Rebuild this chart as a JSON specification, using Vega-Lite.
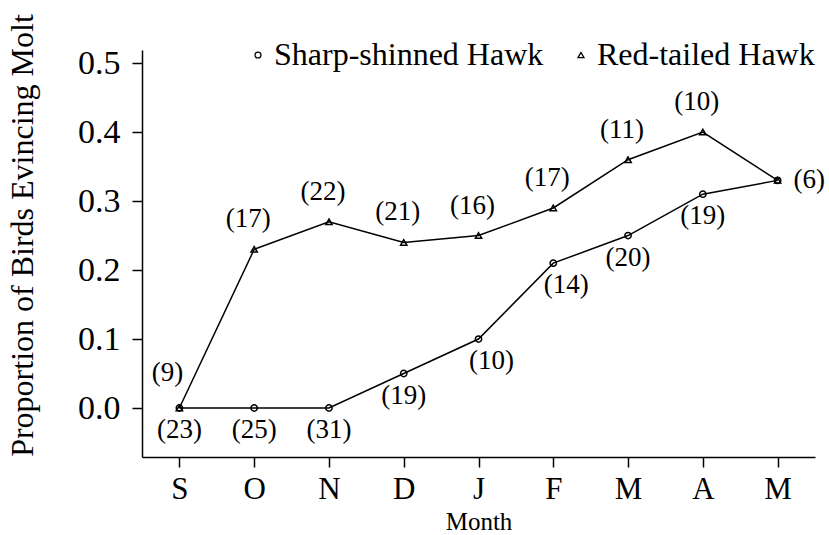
{
  "$schema": "https://vega.github.io/schema/vega-lite/v6.json",
  "width": 673,
  "height": 407,
  "autosize": {"type": "none"},
  "padding": {"left": 142, "top": 50, "right": 14, "bottom": 78},
  "background": "white",
  "config": {"view": {"stroke": null}, "font": "Liberation Serif"},
  "data": {
    "values": [
      {"species": "Sharp-shinned Hawk", "month": "Sep", "proportion": 0.0, "sample": "(23)"},
      {"species": "Sharp-shinned Hawk", "month": "Oct", "proportion": 0.0, "sample": "(25)"},
      {"species": "Sharp-shinned Hawk", "month": "Nov", "proportion": 0.0, "sample": "(31)"},
      {"species": "Sharp-shinned Hawk", "month": "Dec", "proportion": 0.05, "sample": "(19)"},
      {"species": "Sharp-shinned Hawk", "month": "Jan", "proportion": 0.10, "sample": "(10)"},
      {"species": "Sharp-shinned Hawk", "month": "Feb", "proportion": 0.21, "sample": "(14)"},
      {"species": "Sharp-shinned Hawk", "month": "Mar", "proportion": 0.25, "sample": "(20)"},
      {"species": "Sharp-shinned Hawk", "month": "Apr", "proportion": 0.31, "sample": "(19)"},
      {"species": "Sharp-shinned Hawk", "month": "May", "proportion": 0.33, "sample": "(6)"},
      {"species": "Red-tailed Hawk", "month": "Sep", "proportion": 0.0, "sample": "(9)"},
      {"species": "Red-tailed Hawk", "month": "Oct", "proportion": 0.23, "sample": "(17)"},
      {"species": "Red-tailed Hawk", "month": "Nov", "proportion": 0.27, "sample": "(22)"},
      {"species": "Red-tailed Hawk", "month": "Dec", "proportion": 0.24, "sample": "(21)"},
      {"species": "Red-tailed Hawk", "month": "Jan", "proportion": 0.25, "sample": "(16)"},
      {"species": "Red-tailed Hawk", "month": "Feb", "proportion": 0.29, "sample": "(17)"},
      {"species": "Red-tailed Hawk", "month": "Mar", "proportion": 0.36, "sample": "(11)"},
      {"species": "Red-tailed Hawk", "month": "Apr", "proportion": 0.40, "sample": "(10)"},
      {"species": "Red-tailed Hawk", "month": "May", "proportion": 0.33, "sample": "(6)"}
    ]
  },
  "encoding": {
    "x": {
      "field": "month",
      "type": "ordinal",
      "sort": ["Sep", "Oct", "Nov", "Dec", "Jan", "Feb", "Mar", "Apr", "May"],
      "scale": {"type": "point", "padding": 0.5},
      "axis": {
        "title": "Month",
        "titleFont": "Liberation Serif",
        "titleFontSize": 25,
        "titleFontWeight": "normal",
        "titleColor": "black",
        "titlePadding": 5,
        "labelExpr": "substring(datum.value, 0, 1)",
        "labelAngle": 0,
        "labelFont": "Liberation Serif",
        "labelFontSize": 31,
        "labelColor": "black",
        "labelPadding": 7,
        "tickSize": 10,
        "tickWidth": 1.5,
        "tickColor": "black",
        "domainColor": "black",
        "domainWidth": 1.5,
        "grid": false
      }
    },
    "y": {
      "field": "proportion",
      "type": "quantitative",
      "scale": {"domain": [-0.071, 0.519], "nice": false, "zero": false},
      "axis": {
        "title": "Proportion of Birds Evincing Molt",
        "titleFont": "Liberation Serif",
        "titleFontSize": 32,
        "titleFontWeight": "normal",
        "titleColor": "black",
        "titleX": -110,
        "titleY": 185,
        "titleAngle": -90,
        "titleAlign": "center",
        "titleBaseline": "alphabetic",
        "values": [0, 0.1, 0.2, 0.3, 0.4, 0.5],
        "format": ".1f",
        "labelFont": "Liberation Serif",
        "labelFontSize": 34,
        "labelColor": "black",
        "labelPadding": 12,
        "tickSize": 10,
        "tickWidth": 1.5,
        "tickColor": "black",
        "domainColor": "black",
        "domainWidth": 1.5,
        "grid": false
      }
    }
  },
  "layer": [
    {
      "mark": {"type": "line", "color": "black", "strokeWidth": 1.5},
      "encoding": {"detail": {"field": "species"}}
    },
    {
      "mark": {"type": "point", "filled": false, "stroke": "black", "strokeWidth": 1.5, "size": 40, "opacity": 1},
      "encoding": {
        "shape": {
          "field": "species",
          "type": "nominal",
          "scale": {"domain": ["Sharp-shinned Hawk", "Red-tailed Hawk"], "range": ["circle", "triangle-up"]},
          "legend": {
            "title": null,
            "orient": "none",
            "legendX": 100,
            "legendY": -11,
            "direction": "horizontal",
            "labelFont": "Liberation Serif",
            "labelFontSize": 32,
            "labelColor": "black",
            "labelLimit": 500,
            "symbolSize": 35,
            "symbolStrokeColor": "black",
            "symbolStrokeWidth": 1.3,
            "symbolFillColor": "white",
            "columnPadding": 21,
            "labelOffset": 0
          }
        }
      }
    },
    {
      "transform": [{"filter": "datum.species == 'Red-tailed Hawk' && datum.month != 'Sep' && datum.month != 'May'"}],
      "mark": {"type": "text", "font": "Liberation Serif", "fontSize": 27, "color": "black", "baseline": "middle", "dx": -6, "dy": -30},
      "encoding": {"text": {"field": "sample"}}
    },
    {
      "transform": [{"filter": "datum.species == 'Red-tailed Hawk' && datum.month == 'Sep'"}],
      "mark": {"type": "text", "font": "Liberation Serif", "fontSize": 27, "color": "black", "baseline": "middle", "dx": -12, "dy": -35},
      "encoding": {"text": {"field": "sample"}}
    },
    {
      "transform": [{"filter": "datum.species == 'Red-tailed Hawk' && datum.month == 'May'"}],
      "mark": {"type": "text", "font": "Liberation Serif", "fontSize": 27, "color": "black", "baseline": "middle", "align": "left", "dx": 16},
      "encoding": {"text": {"field": "sample"}}
    },
    {
      "transform": [{"filter": "datum.species == 'Sharp-shinned Hawk' && datum.month != 'Jan' && datum.month != 'Feb' && datum.month != 'May'"}],
      "mark": {"type": "text", "font": "Liberation Serif", "fontSize": 27, "color": "black", "baseline": "middle", "dy": 22},
      "encoding": {"text": {"field": "sample"}}
    },
    {
      "transform": [{"filter": "datum.species == 'Sharp-shinned Hawk' && (datum.month == 'Jan' || datum.month == 'Feb')"}],
      "mark": {"type": "text", "font": "Liberation Serif", "fontSize": 27, "color": "black", "baseline": "middle", "dx": 13, "dy": 22},
      "encoding": {"text": {"field": "sample"}}
    }
  ]
}
